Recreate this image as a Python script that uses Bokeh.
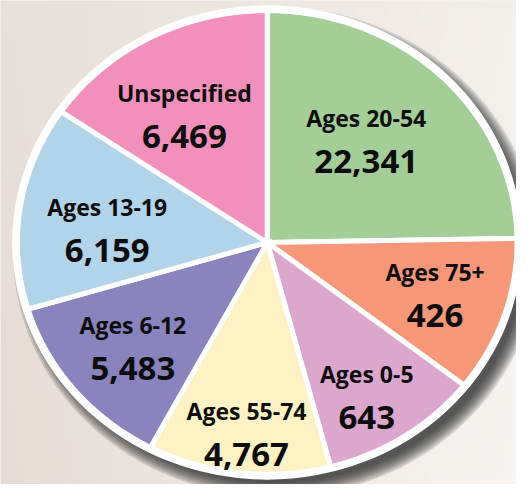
import numpy as np
from bokeh.plotting import figure
from bokeh.models import Range1d, ColumnDataSource
from bokeh.core.properties import value
from bokeh.embed import file_html
from bokeh.resources import INLINE

# ---------------- data ----------------
categories = ["Ages 20-54", "Ages 75+", "Ages 0-5", "Ages 55-74",
              "Ages 6-12", "Ages 13-19", "Unspecified"]
counts = [22341, 426, 643, 4767, 5483, 6159, 6469]
# slice sizes as drawn in the graphic (degrees, clockwise from 12 o'clock)
slice_degrees = [89.0, 39.0, 37.3, 42.6, 45.4, 51.1, 55.6]

# ---------------- styles ----------------
colors = ["#a4ce98", "#f7977a", "#dca7cf", "#fef2c5",
          "#8983be", "#b2d4e8", "#f290bb"]
label_r = [0.603, 0.713, 0.777, 0.829, 0.705, 0.65, 0.654]
label_shift = [2.9, 0.6, -2.15, 0.8, 0.2, 3.2, 3.0]

W, H = 516, 484
CX, CY = 275.0, 250.0          # pie centre (y measured upward)
RXC, RYC = 255.0, 237.0        # coloured radii
RX, RY = RXC + 2.5, RYC + 2.5  # patch radii (half of white separator)
RXW, RYW = 263.0, 245.0        # outer white ring

p = figure(width=W, height=H, output_backend="svg", toolbar_location=None,
           x_range=Range1d(0, 532), y_range=Range1d(0, 500),
           min_border=0, outline_line_color=None)
p.axis.visible = False
p.grid.visible = False
p.background_fill_color = "#ede7e2"
p.border_fill_color = "#ede7e2"

# background gradient
nx, ny = 128, 32
img = np.empty((ny, nx), dtype=np.uint32)
view = img.view(dtype=np.uint8).reshape((ny, nx, 4))
tl = np.array([0xe7, 0xdf, 0xd9]); tr = np.array([0xf3, 0xef, 0xeb])
bl = np.array([0xe5, 0xdc, 0xd5]); br = np.array([0xf7, 0xf4, 0xf1])
for j in range(ny):
    v = j / (ny - 1)  # 0 bottom, 1 top
    for i in range(nx):
        u = i / (nx - 1)
        c = (1 - u) * (v * tl + (1 - v) * bl) + u * (v * tr + (1 - v) * br)
        view[j, i, 0:3] = c.astype(np.uint8)
        view[j, i, 3] = 255
p.image_rgba(image=[img], x=0, y=0, dw=532, dh=500)

# drop shadow (layered for blur)
for e in range(-6, 10, 2):
    p.ellipse(x=CX + 9, y=CY - 10, width=2 * (RXW + e), height=2 * (RYW + e),
              fill_color="#282828", fill_alpha=0.16, line_color=None)

# white rim
p.ellipse(x=CX, y=CY, width=2 * RXW, height=2 * RYW,
          fill_color="white", line_color=None)

# slices
xs_list, ys_list = [], []
lx, ly, ny_ = [], [], []
a = 90.0
for deg, lr, sh in zip(slice_degrees, label_r, label_shift):
    a0, a1 = a, a - deg
    t = np.radians(np.linspace(a0, a1, 120))
    xs_list.append(np.concatenate([[CX], CX + RX * np.cos(t)]).tolist())
    ys_list.append(np.concatenate([[CY], CY + RY * np.sin(t)]).tolist())
    mid = np.radians((a0 + a1) / 2 + sh)
    px = CX + lr * RXC * np.cos(mid)
    py = CY + lr * RYC * np.sin(mid)
    lx.append(px); ly.append(py + 21.5); ny_.append(py - 23.5)
    a = a1

src = ColumnDataSource(dict(xs=xs_list, ys=ys_list, color=colors,
                            cat=categories, val=[f"{v:,}" for v in counts],
                            lx=lx, ly=ly, ny=ny_))
p.patches(xs="xs", ys="ys", fill_color="color", line_color="white",
          line_width=5, line_join="miter", source=src)

p.text(x="lx", y="ly", text="cat", source=src, text_font=value("Open Sans"),
       text_font_style="bold", text_font_size="23px", text_align="center",
       text_baseline="alphabetic", text_color="#0d0d0d")
p.text(x="lx", y="ny", text="val", source=src, text_font=value("Open Sans"),
       text_font_style="bold", text_font_size="33px", text_align="center",
       text_baseline="alphabetic", text_color="#0d0d0d")

open("out.html", "w").write(file_html(p, INLINE))
